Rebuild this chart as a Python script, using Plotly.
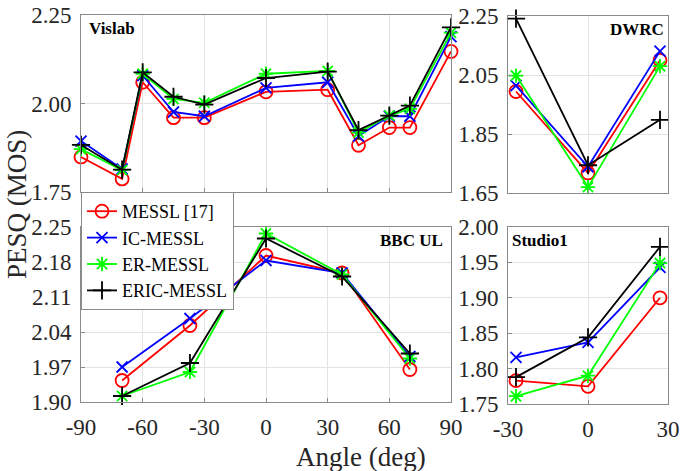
import plotly.graph_objects as go

# ---------------- data ----------------
series_names = ["MESSL [17]", "IC-MESSL", "ER-MESSL", "ERIC-MESSL"]

vislab_angles = [-90, -70, -60, -45, -30, 0, 30, 45, 60, 70, 90]
vislab_messl = [1.849, 1.787, 2.060, 1.960, 1.960, 2.033, 2.039, 1.882, 1.932, 1.932, 2.147]
vislab_ic = [1.894, 1.815, 2.079, 1.976, 1.964, 2.044, 2.060, 1.908, 1.964, 1.964, 2.189]
vislab_er = [1.871, 1.812, 2.084, 2.013, 2.002, 2.084, 2.092, 1.918, 1.966, 1.985, 2.200]
vislab_eric = [1.883, 1.813, 2.088, 2.019, 1.997, 2.072, 2.090, 1.925, 1.966, 1.994, 2.215]

dwrc_angles = [-27, 0, 27]
dwrc_messl = [1.994, 1.718, 2.100]
dwrc_ic = [2.014, 1.739, 2.131]
dwrc_er = [2.048, 1.670, 2.080]
dwrc_eric = [2.241, 1.744, 1.898]

bbc_angles = [-70, -37, 0, 37, 70]
bbc_messl = [1.943, 2.053, 2.193, 2.158, 1.965]
bbc_ic = [1.970, 2.067, 2.183, 2.158, 1.991]
bbc_er = [1.912, 1.960, 2.237, 2.155, 1.987]
bbc_eric = [1.912, 1.978, 2.227, 2.151, 1.997]

studio_angles = [-27, 0, 27]
studio_messl = [1.783, 1.775, 1.900]
studio_ic = [1.816, 1.837, 1.943]
studio_er = [1.761, 1.790, 1.949]
studio_eric = [1.788, 1.844, 1.972]

vislab_yticks = [1.75, 2.00, 2.25]
dwrc_yticks = [1.65, 1.85, 2.05, 2.25]
bbc_yticks = [1.90, 1.97, 2.04, 2.11, 2.18, 2.25]
studio_yticks = [1.75, 1.80, 1.85, 1.90, 1.95, 2.00]
wide_xticks = [-90, -60, -30, 0, 30, 60, 90]
narrow_xticks = [-30, 0, 30]

# ---------------- styling ----------------
FONT = "Liberation Serif, Times New Roman, serif"
colors = ["#ff0000", "#0000ff", "#00ff00", "#000000"]
symbols = ["circle-open", "x-thin-open", "asterisk-open", "cross-thin-open"]
msizes = [13, 11, 12, 13]

W, H = 680, 471


def dom_x(a, b):
    return [a / W, b / W]


def dom_y(top, bottom):
    return [(H - bottom) / H, (H - top) / H]


panels = [
    ("Vislab", vislab_angles, [vislab_messl, vislab_ic, vislab_er, vislab_eric],
     dom_x(81, 451), dom_y(15, 192), [-90, 90], [1.75, 2.25], vislab_yticks, wide_xticks, False),
    ("DWRC", dwrc_angles, [dwrc_messl, dwrc_ic, dwrc_er, dwrc_eric],
     dom_x(508, 668), dom_y(16, 193), [-30, 30], [1.65, 2.25], dwrc_yticks, narrow_xticks, False),
    ("BBC UL", bbc_angles, [bbc_messl, bbc_ic, bbc_er, bbc_eric],
     dom_x(81, 451), dom_y(227, 402), [-90, 90], [1.90, 2.25], bbc_yticks, wide_xticks, True),
    ("Studio1", studio_angles, [studio_messl, studio_ic, studio_er, studio_eric],
     dom_x(508, 668), dom_y(227, 404), [-30, 30], [1.75, 2.00], studio_yticks, narrow_xticks, True),
]

fig = go.Figure()
layout_axes = {}
annotations = []

for i, (name, angles, series, xd, yd, xr, yr, yt, xt, showx) in enumerate(panels):
    n = i + 1
    xa = "x" if n == 1 else f"x{n}"
    ya = "y" if n == 1 else f"y{n}"
    for k, vals in enumerate(series):
        fig.add_trace(go.Scatter(
            x=angles, y=vals, xaxis=xa, yaxis=ya,
            mode="lines+markers", name=series_names[k],
            showlegend=(i == 0), legendgroup=series_names[k],
            cliponaxis=False,
            line=dict(color=colors[k], width=1.8),
            marker=dict(symbol=symbols[k], size=msizes[k], color=colors[k],
                        line=dict(color=colors[k], width=1.8)),
        ))
    xkey = "xaxis" if n == 1 else f"xaxis{n}"
    ykey = "yaxis" if n == 1 else f"yaxis{n}"
    layout_axes[xkey] = dict(
        domain=xd, range=xr, anchor=ya, tickvals=xt,
        ticktext=[str(v) for v in xt],
        showticklabels=showx, automargin=False,
        showgrid=True, gridcolor="#e3e3e3", gridwidth=1, zeroline=False,
        showline=True, mirror=True, linecolor="#8a8a8a", linewidth=1,
        ticks="inside", ticklen=4, tickcolor="#8a8a8a",
        tickfont=dict(family=FONT, size=23, color="#262626"),
        ticklabelstandoff=4,
    )
    layout_axes[ykey] = dict(
        domain=yd, range=yr, anchor=xa, tickvals=yt,
        ticktext=[f"{v:.2f}" for v in yt], automargin=False,
        showgrid=True, gridcolor="#e3e3e3", gridwidth=1, zeroline=False,
        showline=True, mirror=True, linecolor="#8a8a8a", linewidth=1,
        ticks="inside", ticklen=4, tickcolor="#8a8a8a",
        tickfont=dict(family=FONT, size=23, color="#262626"),
        ticklabelstandoff=4,
    )
    left = name in ("Vislab", "Studio1")
    annotations.append(dict(
        text=f"<b>{name}</b>", xref=f"{xa} domain", yref=f"{ya} domain",
        x=0.015 if left else 0.985, y=0.99,
        xanchor="left" if left else "right", yanchor="top",
        showarrow=False, font=dict(family=FONT, size=17, color="#000000"),
    ))

annotations.append(dict(
    text="PESQ (MOS)", xref="paper", yref="paper", x=17 / W, y=(H - 205) / H,
    xanchor="center", yanchor="middle", textangle=-90, showarrow=False,
    font=dict(family=FONT, size=27, color="#262626"),
))
annotations.append(dict(
    text="Angle (deg)", xref="paper", yref="paper", x=361 / W, y=(H - 457) / H,
    xanchor="center", yanchor="middle", showarrow=False,
    font=dict(family=FONT, size=27, color="#262626"),
))

fig.update_layout(
    width=W, height=H,
    margin=dict(l=0, r=0, t=0, b=0),
    paper_bgcolor="white", plot_bgcolor="white",
    showlegend=True,
    legend=dict(
        x=81 / W, y=(H - 192) / H, xanchor="left", yanchor="top",
        bgcolor="white", bordercolor="#8a8a8a", borderwidth=1,
        font=dict(family=FONT, size=18, color="#000000"),
        itemwidth=30, tracegroupgap=0,
    ),
    annotations=annotations,
    **layout_axes,
)

fig.write_html(
    "out.html",
    config={"displayModeBar": False},
    post_script="document.documentElement.style.margin='0';"
                "document.body.style.margin='0';"
                "document.body.style.overflow='hidden';",
)
